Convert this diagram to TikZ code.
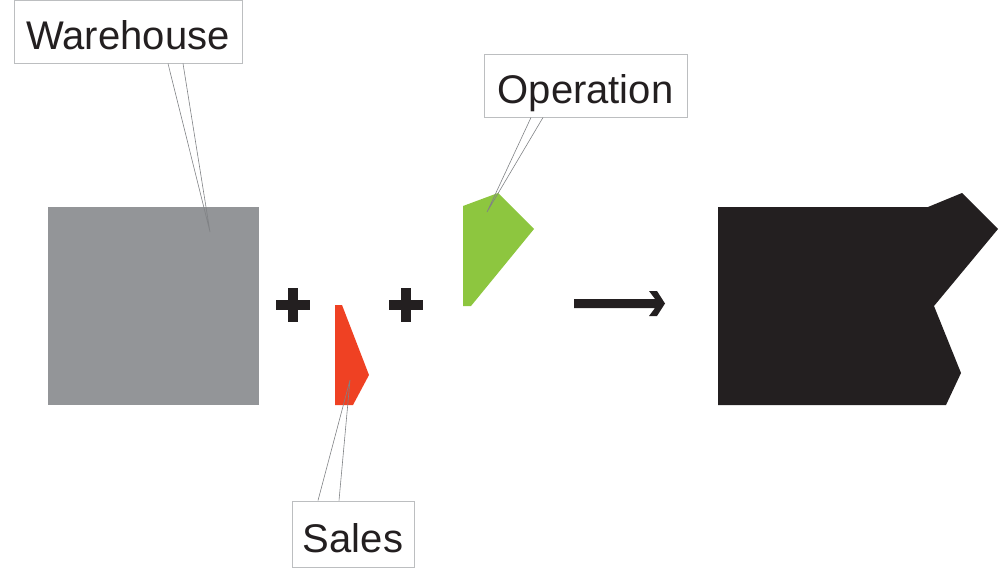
\documentclass[tikz,border=0pt]{standalone}
\usepackage{fontspec}
\setmainfont{Liberation Sans}
\definecolor{wgray}{HTML}{939598}
\definecolor{sred}{HTML}{EF4123}
\definecolor{ogreen}{HTML}{8DC63F}
\definecolor{tblack}{HTML}{231F20}
\definecolor{boxline}{HTML}{BCBEC0}
\definecolor{calline}{HTML}{808285}
\tikzset{
  labelbox/.style={draw=boxline, line width=1pt, fill=white, inner sep=0pt,
    text height=36pt, text depth=0pt,
    font=\fontsize{40}{48}\selectfont, text=tblack},
  callout/.style={draw=calline, line width=0.6pt},
  plusbar/.style={fill=tblack}
}
\begin{document}
\begin{tikzpicture}[x=1pt,y=-1pt]
\useasboundingbox (0,0) rectangle (1000,568);
% shapes
\fill[wgray] (48,207) rectangle (259,405);
\fill[sred] (335,305) -- (342,305) -- (369,375) -- (353,405) -- (335,405) -- cycle;
\fill[ogreen] (463,206) -- (498,193) -- (534,229) -- (471,306) -- (463,306) -- cycle;
\fill[tblack] (718,207) -- (928,207) -- (962,193) -- (998,229) -- (934,306) -- (961,373) -- (946,405) -- (718,405) -- cycle;
% plus signs
\fill[plusbar] (276,300) rectangle (310,310);
\fill[plusbar] (288,288) rectangle (298,322);
\fill[plusbar] (389,300) rectangle (423,310);
\fill[plusbar] (401,288) rectangle (411,322);
% arrow
\fill[tblack] (574,299) -- (655,299) -- (649,291) -- (657,291) -- (665,303.5) -- (657,316) -- (649,316) -- (655,308) -- (574,308) -- cycle;
% tips of callouts
\coordinate (wtip) at (210,232);
\coordinate (stip) at (350,380);
\coordinate (otip) at (487,212);
% label boxes
\node[labelbox, minimum width=228pt, minimum height=63pt] (wh) at (128,31.5) {Warehouse};
\node[labelbox, minimum width=203pt, minimum height=63pt] (op) at (585.5,85.5) {Operation};
\node[labelbox, minimum width=122pt, minimum height=66pt] (sa) at (353,534) {Sales};
% callouts
\draw[callout] ([xshift=40pt]wh.south) -- (wtip) -- ([xshift=55pt]wh.south);
\draw[callout] ([xshift=-54.5pt]op.south) -- (otip) -- ([xshift=-42.5pt]op.south);
\draw[callout] ([xshift=-35pt]sa.north) -- (stip) -- ([xshift=-14pt]sa.north);
\end{tikzpicture}
\end{document}
